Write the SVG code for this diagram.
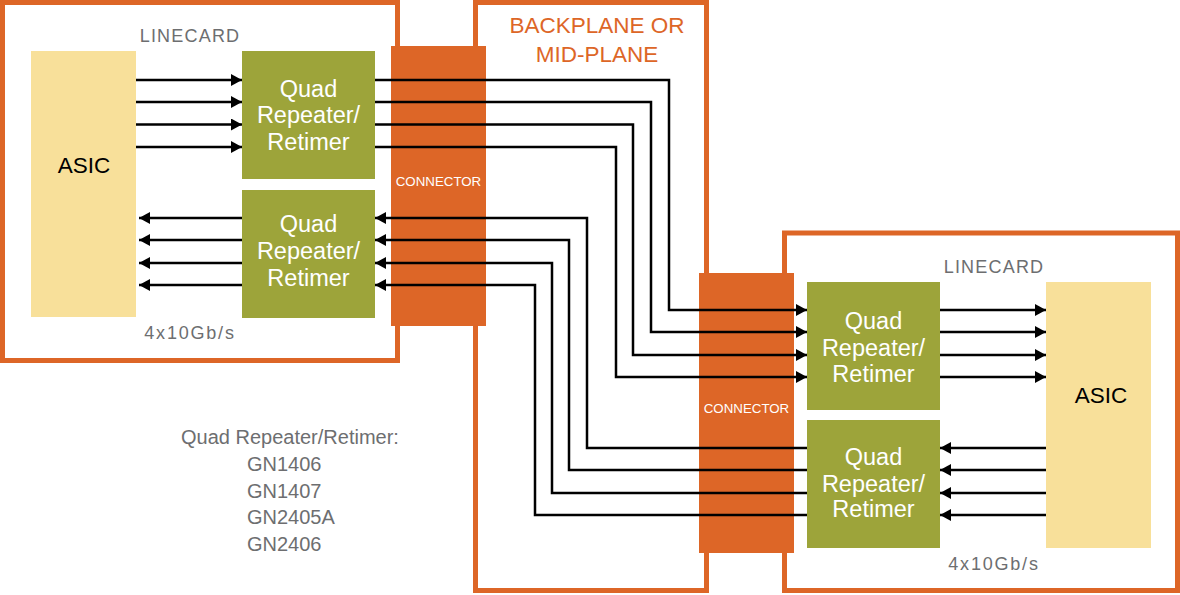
<svg xmlns="http://www.w3.org/2000/svg" width="1180" height="595" viewBox="0 0 1180 595">
<style>
.frame{fill:#fff;stroke:#DD6627;stroke-width:5}
.conn{fill:#DD6627}
.asic{fill:#F8E09A}
.quad{fill:#9DA43A}
.wire{fill:none;stroke:#000;stroke-width:2.5}
.arr{marker-end:url(#ah)}
text{font-family:"Liberation Sans",Arial,sans-serif}
.qt{fill:#fff;font-size:23.5px;text-anchor:middle}
.at{fill:#000;font-size:22.5px;text-anchor:middle}
.ct{fill:#fff;font-size:13.3px;text-anchor:middle}
.lc{fill:#6D6E70;font-size:18px;text-anchor:middle;letter-spacing:1.2px}
.rt{fill:#6D6E70;font-size:18px;text-anchor:middle;letter-spacing:1.8px}
.bp{fill:#DD6627;font-size:22.5px;text-anchor:middle}
.nt{fill:#6D6E70;font-size:20px}
</style>
<defs>
<marker id="ah" markerUnits="userSpaceOnUse" markerWidth="12" markerHeight="13" refX="11" refY="6" orient="auto">
<path d="M0,0 L11,6 L0,12 z" fill="#000"/>
</marker>
</defs>
<g id="left-linecard">
<rect class="frame" x="2.5" y="2.5" width="395" height="358"/>
<text class="lc" x="190" y="42">LINECARD</text>
<text class="rt" x="190" y="339">4x10Gb/s</text>
</g>
<g id="backplane">
<rect class="frame" x="475.5" y="2.5" width="231" height="588"/>
<text class="bp" x="597" y="33">BACKPLANE OR</text>
<text class="bp" x="597" y="62">MID-PLANE</text>
</g>
<g id="right-linecard">
<rect class="frame" x="784.5" y="233" width="393" height="357.5"/>
<text class="lc" x="994" y="273">LINECARD</text>
<text class="rt" x="994" y="570">4x10Gb/s</text>
</g>
<g id="left-asic">
<rect class="asic" x="31" y="51" width="105" height="266"/>
<text class="at" x="84" y="173">ASIC</text>
</g>
<g id="left-quad-tx">
<rect class="quad" x="242" y="51" width="133" height="128"/>
<text class="qt" x="308.5" y="97">Quad</text>
<text class="qt" x="308.5" y="123">Repeater/</text>
<text class="qt" x="308.5" y="150">Retimer</text>
</g>
<g id="left-quad-rx">
<rect class="quad" x="242" y="190" width="133" height="128"/>
<text class="qt" x="308.5" y="232">Quad</text>
<text class="qt" x="308.5" y="259">Repeater/</text>
<text class="qt" x="308.5" y="286">Retimer</text>
</g>
<g id="left-connector">
<rect class="conn" x="391" y="46" width="95" height="280"/>
<text class="ct" x="438.5" y="186">CONNECTOR</text>
</g>
<g id="right-connector">
<rect class="conn" x="699" y="273" width="95" height="280"/>
<text class="ct" x="746.5" y="413">CONNECTOR</text>
</g>
<g id="right-quad-rx">
<rect class="quad" x="807" y="282" width="133" height="128"/>
<text class="qt" x="873.5" y="329">Quad</text>
<text class="qt" x="873.5" y="356">Repeater/</text>
<text class="qt" x="873.5" y="382">Retimer</text>
</g>
<g id="right-quad-tx">
<rect class="quad" x="807" y="420" width="133" height="128"/>
<text class="qt" x="873.5" y="465">Quad</text>
<text class="qt" x="873.5" y="492">Repeater/</text>
<text class="qt" x="873.5" y="517">Retimer</text>
</g>
<g id="right-asic">
<rect class="asic" x="1046" y="282" width="105" height="266"/>
<text class="at" x="1101" y="403">ASIC</text>
</g>
<g id="connectors">
<path class="wire arr" d="M136,80 H242"/>
<path class="wire arr" d="M136,102 H242"/>
<path class="wire arr" d="M136,124.5 H242"/>
<path class="wire arr" d="M136,147 H242"/>
<path class="wire arr" d="M242,218 H139"/>
<path class="wire arr" d="M242,240 H139"/>
<path class="wire arr" d="M242,263 H139"/>
<path class="wire arr" d="M242,285 H139"/>
<path class="wire arr" d="M375,80 H669 V310 H807"/>
<path class="wire arr" d="M375,102 H651 V332 H807"/>
<path class="wire arr" d="M375,124.5 H633 V355 H807"/>
<path class="wire arr" d="M375,147 H616 V377 H807"/>
<path class="wire arr" d="M807,448 H587 V218 H375"/>
<path class="wire arr" d="M807,470 H569 V240 H375"/>
<path class="wire arr" d="M807,493 H552 V263 H375"/>
<path class="wire arr" d="M807,515 H535 V285 H375"/>
<path class="wire arr" d="M940,310 H1046"/>
<path class="wire arr" d="M940,332 H1046"/>
<path class="wire arr" d="M940,355 H1046"/>
<path class="wire arr" d="M940,377 H1046"/>
<path class="wire arr" d="M1046,448 H940"/>
<path class="wire arr" d="M1046,470 H940"/>
<path class="wire arr" d="M1046,493 H940"/>
<path class="wire arr" d="M1046,515 H940"/>
</g>
<g id="note">
<text class="nt" x="181" y="444">Quad Repeater/Retimer:</text>
<text class="nt" x="247" y="471">GN1406</text>
<text class="nt" x="247" y="497.5">GN1407</text>
<text class="nt" x="247" y="524">GN2405A</text>
<text class="nt" x="247" y="551">GN2406</text>
</g>
</svg>
